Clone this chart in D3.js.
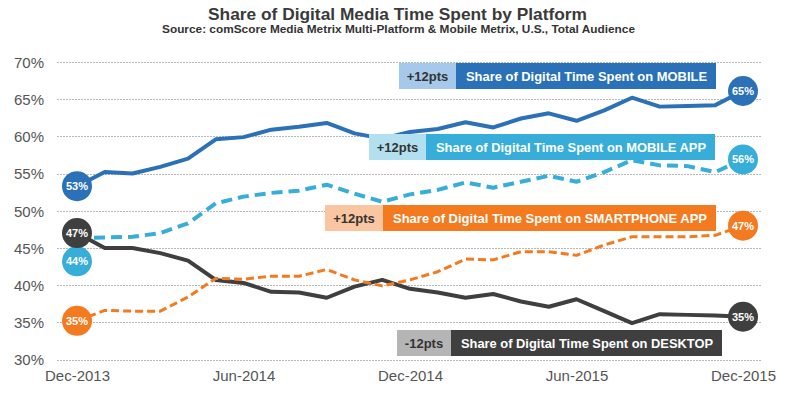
<!DOCTYPE html>
<html lang="en">
  <head>
    <meta charset="UTF-8">
    <script type="text/javascript" src="https://cdn.jsdelivr.net/npm/d3@7/dist/d3.min.js"></script>
    <style>
      body { margin: 0; background: #fff; }
      svg text { font-family: 'Liberation Sans', Arial, sans-serif; }
      .grid line { stroke: #b8b8b8; stroke-dasharray: 2,1; shape-rendering: crispEdges; }
      .axis text { font-size: 15px; fill: #555; }
    </style>
    <title>Share of Digital Media Time Spent by Platform</title>
  </head>
  <body>
    <script type="text/javascript">
      // Months on the x axis (monthly, Dec-2013 .. Dec-2015)
      let months = ['Dec-2013', 'Jan-2014', 'Feb-2014', 'Mar-2014', 'Apr-2014', 'May-2014',
                    'Jun-2014', 'Jul-2014', 'Aug-2014', 'Sep-2014', 'Oct-2014', 'Nov-2014',
                    'Dec-2014', 'Jan-2015', 'Feb-2015', 'Mar-2015', 'Apr-2015', 'May-2015',
                    'Jun-2015', 'Jul-2015', 'Aug-2015', 'Sep-2015', 'Oct-2015', 'Nov-2015',
                    'Dec-2015'];
      let xTickLabels = ['Dec-2013', 'Jun-2014', 'Dec-2014', 'Jun-2015', 'Dec-2015'];
      let yTicks = [30, 35, 40, 45, 50, 55, 60, 65, 70];

      // Share of time spent, %
      let mobile = [53.3, 55.2, 55.0, 55.9, 57.0, 59.6, 59.9, 60.9, 61.3, 61.8, 60.4, 59.7, 60.6,
                    61.0, 61.9, 61.2, 62.4, 63.1, 62.1, 63.5, 65.2, 64.0, 64.1, 64.2, 66.1];
      let mobileApp = [46.3, 46.4, 46.5, 47.0, 48.3, 51.0, 51.9, 52.4, 52.7, 53.5, 52.3, 51.2, 52.2,
                       52.8, 53.8, 53.1, 53.9, 54.7, 53.9, 55.2, 56.8, 56.1, 56.0, 55.2, 56.9];
      let smartphoneApp = [35.2, 36.6, 36.5, 36.5, 38.4, 40.9, 40.8, 41.2, 41.2, 42.1, 40.7, 39.9, 40.7,
                           41.8, 43.5, 43.4, 44.5, 44.5, 44.0, 45.4, 46.5, 46.5, 46.5, 46.7, 48.0];
      let desktop = [47.0, 45.0, 45.0, 44.3, 43.3, 40.7, 40.3, 39.1, 39.0, 38.3, 39.8, 40.7, 39.5,
                     39.0, 38.3, 38.8, 37.8, 37.1, 38.1, 36.5, 34.9, 36.1, 36.0, 35.9, 35.75];

      // End-point badges
      let startLabels = ['53%', '44%', '35%', '47%'];
      let startBadge = [53.3, 43.2, 35.2, 47.0];
      let endLabels = ['65%', '56%', '47%', '35%'];
      let endBadge = [66.1, 56.9, 48.0, 35.75];

      // Legend texts
      let seriesNames = ['Share of Digital Time Spent on MOBILE',
                         'Share of Digital Time Spent on MOBILE APP',
                         'Share of Digital Time Spent on SMARTPHONE APP',
                         'Share of Digital Time Spent on DESKTOP'];
      let changes = ['+12pts', '+12pts', '+12pts', '-12pts'];

      let w = 792;
      let h = 399;

      let colors = ['#2a71b8', '#37add9', '#f47a20', '#3f3f3f'];
      let lightColors = ['#a6c8ea', '#b3e0f1', '#f9c6a1', '#b5b5b5'];
      let dashes = [null, '11,6', '8,4', null];
      let widths = [4, 4, 3, 4];

      // legend box layout: light box x, dark box x, right edge, top
      let legendLayout = [
        {x0: 399, x1: 456, x2: 716, y: 63},
        {x0: 369, x1: 426, x2: 715, y: 134},
        {x0: 325, x1: 383, x2: 716, y: 205},
        {x0: 397, x1: 451, x2: 722, y: 330}
      ];

      let xScale = d3.scalePoint()
                      .domain(months)
                      .range([77, 743]);
      let yScale = d3.scaleLinear()
                      .domain([30, 70])
                      .range([359.5, 62]);

      let svg = d3.select('body')
                  .append('svg')
                  .attr('width', w)
                  .attr('height', h);

      // Title
      svg.append('text')
          .attr('x', 208)
          .attr('y', 20)
          .attr('textLength', 379)
          .attr('lengthAdjust', 'spacingAndGlyphs')
          .attr('font-size', '17px')
          .attr('font-weight', 'bold')
          .attr('fill', '#3a3a3a')
          .text('Share of Digital Media Time Spent by Platform');
      svg.append('text')
          .attr('x', 162)
          .attr('y', 33)
          .attr('textLength', 473)
          .attr('lengthAdjust', 'spacingAndGlyphs')
          .attr('font-size', '11px')
          .attr('font-weight', 'bold')
          .attr('fill', '#333')
          .text('Source: comScore Media Metrix Multi-Platform & Mobile Metrix, U.S., Total Audience');

      // Grid lines
      svg.append('g')
          .attr('class', 'grid')
          .selectAll('line')
          .data(yTicks)
          .enter()
          .append('line')
          .attr('x1', 57)
          .attr('x2', 761)
          .attr('y1', d => Math.round(yScale(d)) + 0.5)
          .attr('y2', d => Math.round(yScale(d)) + 0.5);

      // Y axis labels
      let yAxis = d3.axisLeft(yScale)
                      .tickValues(yTicks)
                      .tickFormat(d => d + '%')
                      .tickSize(0)
                      .tickPadding(0);
      let yg = svg.append('g')
          .attr('class', 'axis')
          .attr('transform', 'translate(44,0)')
          .call(yAxis);
      yg.select('.domain').remove();
      yg.selectAll('text').attr('dy', '0.36em');

      // X axis labels
      let xAxis = d3.axisBottom(xScale)
                      .tickValues(xTickLabels)
                      .tickSize(0)
                      .tickPadding(0);
      let xg = svg.append('g')
          .attr('class', 'axis')
          .attr('transform', 'translate(0,370)')
          .call(xAxis);
      xg.select('.domain').remove();

      // Lines
      let series = [mobile, mobileApp, smartphoneApp, desktop];
      let line = d3.line()
                    .x((d, i) => xScale(months[i]))
                    .y(d => yScale(d));

      // draw desktop & smartphone first, mobile on top
      [3, 2, 1, 0].forEach(k => {
        svg.append('path')
            .datum(series[k])
            .attr('d', line)
            .attr('fill', 'none')
            .attr('stroke', colors[k])
            .attr('stroke-width', widths[k])
            .attr('stroke-linejoin', 'round')
            .attr('stroke-dasharray', dashes[k]);
      });

      // Legend boxes
      legendLayout.forEach((b, k) => {
        let g = svg.append('g');
        g.append('rect')
            .attr('x', b.x0).attr('y', b.y)
            .attr('width', b.x1 - b.x0).attr('height', 26)
            .attr('fill', lightColors[k]);
        g.append('rect')
            .attr('x', b.x1).attr('y', b.y)
            .attr('width', b.x2 - b.x1).attr('height', 26)
            .attr('fill', colors[k]);
        g.append('text')
            .attr('x', (b.x0 + b.x1) / 2)
            .attr('y', b.y + 18)
            .attr('text-anchor', 'middle')
            .attr('font-size', '13px')
            .attr('font-weight', 'bold')
            .attr('fill', '#333')
            .text(changes[k]);
        g.append('text')
            .attr('x', b.x1 + 10)
            .attr('y', b.y + 18)
            .attr('textLength', b.x2 - b.x1 - 19)
            .attr('lengthAdjust', 'spacingAndGlyphs')
            .attr('font-size', '13px')
            .attr('font-weight', 'bold')
            .attr('fill', '#fff')
            .text(seriesNames[k]);
      });

      // Badges at both ends
      let badges = [];
      [0, 1, 2, 3].forEach(k => {
        badges.push({v: startBadge[k], label: startLabels[k], m: months[0], c: colors[k]});
        badges.push({v: endBadge[k], label: endLabels[k], m: months[months.length - 1], c: colors[k]});
      });
      let bg = svg.selectAll('.badge')
          .data(badges)
          .enter()
          .append('g')
          .attr('class', 'badge')
          .attr('transform', d => 'translate(' + xScale(d.m) + ',' + yScale(d.v) + ')');
      bg.append('circle')
          .attr('r', 15)
          .attr('fill', d => d.c);
      bg.append('text')
          .attr('text-anchor', 'middle')
          .attr('dy', '0.36em')
          .attr('font-size', '11px')
          .attr('font-weight', 'bold')
          .attr('fill', '#fff')
          .text(d => d.label);
    </script>
  </body>
</html>
